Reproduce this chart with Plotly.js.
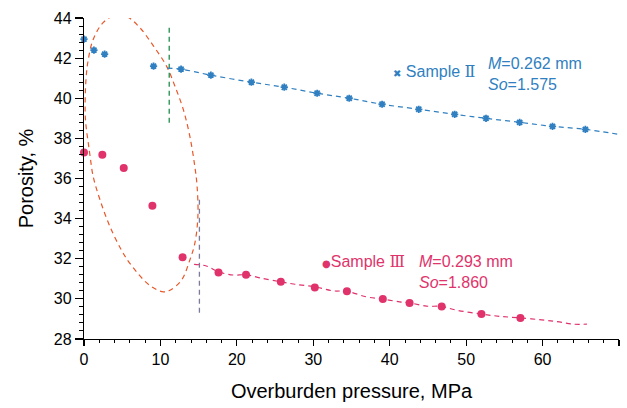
<!DOCTYPE html>
<html>
<head>
<meta charset="utf-8">
<script src="https://cdn.plot.ly/plotly-3.0.1.min.js"></script>
<style>html,body{margin:0;padding:0;background:#fff;}#chart{width:627px;height:408px;}</style>
</head>
<body>
<div id="chart"></div>
<script>
// Sample II (blue)
const s2x = [0, 1.3, 2.7, 9.1, 12.7, 16.6, 21.9, 26.2, 30.5, 34.7, 39.0, 43.8, 48.5, 52.6, 57.0, 61.3, 65.6];
const s2y = [42.95, 42.4, 42.2, 41.6, 41.45, 41.15, 40.8, 40.55, 40.25, 40.0, 39.7, 39.45, 39.2, 39.0, 38.8, 38.6, 38.45];
// Sample II trend (dashed)
const t2x = [10.9, 12.7, 16.6, 21.9, 26.2, 30.5, 34.7, 39.0, 43.8, 48.5, 52.6, 57.0, 61.3, 65.6, 70];
const t2y = [41.5, 41.45, 41.15, 40.8, 40.55, 40.25, 40.0, 39.7, 39.45, 39.2, 39.0, 38.8, 38.6, 38.45, 38.2];
// Sample III (pink)
const s3x = [0, 2.4, 5.2, 8.95, 12.9, 17.6, 21.2, 25.75, 30.2, 34.4, 39.1, 42.6, 46.8, 52.0, 57.1];
const s3y = [37.3, 37.18, 36.52, 34.64, 32.07, 31.32, 31.2, 30.85, 30.57, 30.38, 29.99, 29.8, 29.62, 29.24, 29.05];
// Sample III trend (dashed)
const t3x = [14.4, 16.0, 17.6, 19.5, 21.2, 23.0, 25.75, 27.6, 30.2, 32.6, 34.4, 36.95, 39.1, 41.3, 42.6, 44.8, 46.8, 48.7, 52.0, 54.4, 57.1, 60.5, 62.2, 64.0, 65.8];
const t3y = [31.72, 31.64, 31.35, 31.19, 31.2, 31.05, 30.85, 30.73, 30.6, 30.4, 30.38, 30.1, 29.99, 29.85, 29.8, 29.64, 29.62, 29.44, 29.24, 29.13, 29.05, 28.93, 28.85, 28.74, 28.74];
// Orange ellipse outline
const ellX = [4.05, 5.6, 7.3, 9.1, 10.8, 11.9, 13.0, 13.85, 14.5, 14.8, 14.9, 14.5, 13.85, 12.75, 11.25, 10.4, 8.6, 6.0, 4.9, 3.4, 2.1, 1.2, 0.8, 0.56, 0.3, 0.15, 0.26, 0.56, 1.2, 2.5, 4.05];
const ellY = [44.13, 44.07, 43.52, 42.6, 41.6, 40.6, 39.43, 38.1, 36.6, 35.6, 34.1, 32.77, 31.94, 30.93, 30.43, 30.35, 30.67, 31.77, 32.43, 33.6, 34.93, 36.1, 37.1, 37.77, 38.5, 39.27, 40.94, 41.93, 42.93, 43.77, 44.13];
// Vertical dashed markers
const greenX = [11.15, 11.15];
const greenY = [43.52, 38.6];
const greyX = [15.1, 15.1];
const greyY = [34.94, 29.24];
// Labels
const name2 = 'Sample';
const num2 = 'Ⅱ';
const name3 = 'Sample';
const num3 = 'Ⅲ';
const stats2 = ['0.262', '1.575'];
const stats3 = ['0.293', '1.860'];

const blue = '#2f7fc1';
const pink = '#e0336b';
const dash = '5px,4px';
const fam = '"Liberation Sans", Arial, sans-serif';
const serif = "'DejaVu Serif', 'Liberation Serif', serif";

const traces = [
  {x: ellX, y: ellY, mode: 'lines', line: {color: '#e8582a', width: 1.2, dash: dash, shape: 'spline', smoothing: 1}, hoverinfo: 'skip', cliponaxis: false},
  {x: greenX, y: greenY, mode: 'lines', line: {color: '#1e8e4e', width: 1.3, dash: dash}},
  {x: greyX, y: greyY, mode: 'lines', line: {color: '#7b7b9b', width: 1.3, dash: dash}},
  {x: t2x, y: t2y, mode: 'lines', line: {color: blue, width: 1.2, dash: dash, shape: 'spline'}},
  {x: t3x, y: t3y, mode: 'lines', line: {color: pink, width: 1.2, dash: dash, shape: 'spline'}},
  {x: s2x, y: s2y, mode: 'markers', marker: {symbol: 'asterisk-open', size: 6, color: blue, line: {color: blue, width: 1.8}}, cliponaxis: false},
  {x: s3x, y: s3y, mode: 'markers', marker: {symbol: 'circle', size: 8, color: pink}, cliponaxis: false}
];

const layout = {
  width: 627, height: 408,
  margin: {l: 84, r: 8, t: 18, b: 69},
  paper_bgcolor: '#fff', plot_bgcolor: '#fff',
  font: {family: fam, color: '#000'},
  showlegend: false,
  xaxis: {
    range: [0, 70], dtick: 10, showgrid: false, zeroline: false,
    showline: true, linecolor: '#000', linewidth: 1.2,
    ticks: 'outside', ticklen: 6, tickwidth: 1.2, tickcolor: '#000',
    minor: {dtick: 2, ticks: 'outside', ticklen: 3, tickwidth: 1, tickcolor: '#000'},
    tickfont: {size: 16, family: fam, color: '#000'},
    title: {text: 'Overburden pressure, MPa', font: {size: 20, family: fam, color: '#000'}, standoff: 16}
  },
  yaxis: {
    range: [28, 44], dtick: 2, showgrid: false, zeroline: false,
    showline: true, linecolor: '#000', linewidth: 1.2,
    ticks: 'outside', ticklen: 8, tickwidth: 1.2, tickcolor: '#000',
    minor: {dtick: 0.4, ticks: 'outside', ticklen: 4, tickwidth: 1, tickcolor: '#000'},
    tickfont: {size: 16, family: fam, color: '#000'},
    title: {text: 'Porosity, %', font: {size: 20, family: fam, color: '#000'}, standoff: 14}
  },
  annotations: [
    {xref: 'paper', yref: 'paper', x: (391 - 84) / 535, y: (339 - 71) / 321, xanchor: 'left', yanchor: 'middle', showarrow: false,
     text: '<span style="font-size:10px;font-family:DejaVu Sans">✖</span> ' + name2 + ' <span style="font-family:' + serif + '">' + num2 + '</span>',
     font: {size: 16, family: fam, color: blue}},
    {xref: 'paper', yref: 'paper', x: (320 - 84) / 535, y: (339 - 261) / 321, xanchor: 'left', yanchor: 'middle', showarrow: false,
     text: '<span style="font-size:10px;font-family:DejaVu Sans">●</span>' + name3 + ' <span style="font-family:' + serif + '">' + num3 + '</span>',
     font: {size: 16, family: fam, color: pink}},
    {xref: 'paper', yref: 'paper', x: (486 - 84) / 535, y: (339 - 74) / 321, xanchor: 'left', yanchor: 'middle', align: 'left', showarrow: false,
     text: '<i>M</i>=' + stats2[0] + ' mm<br><i>So</i>=' + stats2[1], font: {size: 16, family: fam, color: blue}},
    {xref: 'paper', yref: 'paper', x: (417 - 84) / 535, y: (339 - 272) / 321, xanchor: 'left', yanchor: 'middle', align: 'left', showarrow: false,
     text: '<i>M</i>=' + stats3[0] + ' mm<br><i>So</i>=' + stats3[1], font: {size: 16, family: fam, color: pink}}
  ]
};

Plotly.newPlot('chart', traces, layout, {displayModeBar: false, staticPlot: true});
</script>
</body>
</html>
